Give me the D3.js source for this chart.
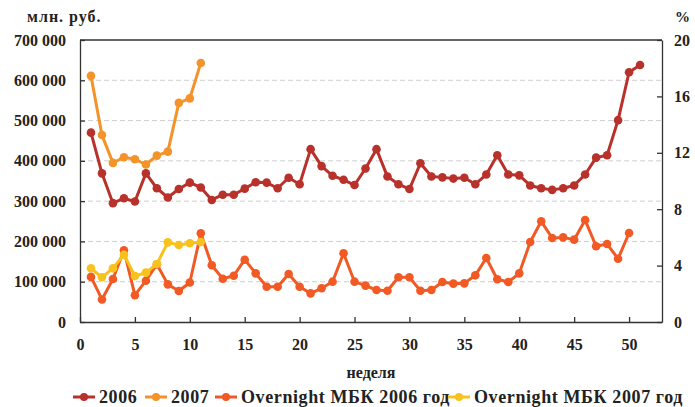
<!DOCTYPE html>
<html>
<head>
<meta charset="utf-8">
<script src="https://cdn.jsdelivr.net/npm/d3@7"></script>
<style>
  body { margin: 0; background: #fff; }
  text { font-family: "Liberation Serif", serif; font-weight: bold; fill: #222; }
  .grid line { stroke: #cfcfcf; stroke-dasharray: 5,3; }
  .axis path, .axis line { stroke: #333; stroke-width: 1.3; }
</style>
</head>
<body>
<div id="chart"></div>
<script>
// svg container
var width = 695
var height = 407

var margin = { top: 40, right: 33, bottom: 85, left: 80 };
var chartWidth = width - margin.left - margin.right;
var chartHeight = height - margin.top - margin.bottom;

// weekly data
var weeks2006 = d3.range(1, 52);
var weeks2007 = d3.range(1, 12);
var weeksOn2006 = d3.range(1, 51);

// balances, thousand mln rub (left axis)
var vol2006 = [470, 369, 295, 307, 299, 369, 332, 309, 330, 346,
    334, 303, 316, 316, 331, 347, 346, 332, 358, 342,
    429, 387, 363, 353, 340, 381, 429, 361, 342, 330,
    394, 361, 359, 356, 358, 342, 366, 414, 366, 364,
    339, 332, 328, 332, 339, 366, 408, 414, 501, 620, 638];
var vol2007 = [611, 464, 395, 409, 404, 391, 413, 423, 544, 555, 643];

// overnight rates, % (right axis)
var on2006 = [3.2, 1.6, 3.05, 5.08, 1.9, 2.93, 4.09, 2.67, 2.2, 2.8,
    6.29, 4.02, 3.07, 3.28, 4.42, 3.45, 2.5, 2.5, 3.4, 2.5,
    2.03, 2.39, 2.86, 4.87, 2.86, 2.58, 2.27, 2.22, 3.17, 3.17,
    2.22, 2.27, 2.84, 2.72, 2.74, 3.31, 4.54, 3.03, 2.84, 3.45,
    5.67, 7.14, 5.96, 6.0, 5.84, 7.23, 5.37, 5.53, 4.49, 6.31];
var on2007 = [3.81, 3.17, 3.81, 4.77, 3.26, 3.5, 4.11, 5.65, 5.46, 5.58, 5.67];

var seriesNames = ['2006', '2007', 'Overnight МБК 2006 год', 'Overnight МБК 2007 год'];
var seriesColors = ['#b8312b', '#f3932a', '#f15a24', '#f8c21c'];

var leftTicks = [0, 100, 200, 300, 400, 500, 600, 700];
var rightTicks = [0, 4, 8, 12, 16, 20];
var xTicks = d3.range(0, 55, 5);

var svg = d3.select('#chart').append('svg')
    .attr('width', width)
    .attr('height', height);

var chartGroup = svg.append('g')
    .attr('transform', `translate(${margin.left}, ${margin.top})`);

var xScale = d3.scaleLinear().domain([0, 53]).range([0, chartWidth]);
var yLeft = d3.scaleLinear().domain([0, 700]).range([chartHeight, 0]);
var yRight = d3.scaleLinear().domain([0, 20]).range([chartHeight, 0]);

// dashed grid
chartGroup.append('g')
    .attr('class', 'grid')
    .selectAll('line')
    .data(leftTicks.filter(d => d > 0 && d < 700))
    .enter()
    .append('line')
    .attr('x1', 0)
    .attr('x2', chartWidth)
    .attr('y1', d => yLeft(d))
    .attr('y2', d => yLeft(d));

// frame top
chartGroup.append('line')
    .attr('x1', 0).attr('x2', chartWidth)
    .attr('y1', 0).attr('y2', 0)
    .attr('stroke', '#333').attr('stroke-width', 1.3);

var fmtThousands = d => d === 0 ? '0' : d + ' 000';

var leftAxis = d3.axisLeft(yLeft).tickValues(leftTicks).tickFormat(fmtThousands)
    .tickSizeInner(-5).tickSizeOuter(0).tickPadding(14);
var rightAxis = d3.axisRight(yRight).tickValues(rightTicks)
    .tickSizeInner(-5).tickSizeOuter(0).tickPadding(12);
var bottomAxis = d3.axisBottom(xScale).tickValues(xTicks)
    .tickSizeInner(-5).tickSizeOuter(0).tickPadding(17);

chartGroup.append('g').attr('class', 'axis').call(leftAxis);
chartGroup.append('g').attr('class', 'axis')
    .attr('transform', `translate(${chartWidth}, 0)`).call(rightAxis);
chartGroup.append('g').attr('class', 'axis')
    .attr('transform', `translate(0, ${chartHeight})`).call(bottomAxis);

svg.selectAll('.axis text')
    .style('font-size', '16px')
    .attr('fill', '#222');

// unit labels
svg.append('text')
    .attr('x', 27).attr('y', 22)
    .style('font-size', '16px')
    .style('letter-spacing', '1px')
    .text('млн. руб.');
svg.append('text')
    .attr('x', 690).attr('y', 22)
    .attr('text-anchor', 'end')
    .style('font-size', '15px')
    .text('%');
svg.append('text')
    .attr('x', margin.left + chartWidth / 2).attr('y', 378)
    .attr('text-anchor', 'middle')
    .style('font-size', '16px')
    .text('неделя');

// series
var series = [
    { xs: weeks2006, ys: vol2006, scale: yLeft },
    { xs: weeks2007, ys: vol2007, scale: yLeft },
    { xs: weeksOn2006, ys: on2006, scale: yRight },
    { xs: weeks2007, ys: on2007, scale: yRight }
];

series.forEach(function(s, i) {
    var pts = s.xs.map((w, j) => [w, s.ys[j]]);
    var line = d3.line()
        .x(d => xScale(d[0]))
        .y(d => s.scale(d[1]));

    var g = chartGroup.append('g');
    g.append('path')
        .datum(pts)
        .attr('d', line)
        .attr('fill', 'none')
        .attr('stroke', seriesColors[i])
        .attr('stroke-width', 3)
        .attr('stroke-linejoin', 'round');
    g.selectAll('circle')
        .data(pts)
        .enter()
        .append('circle')
        .attr('cx', d => xScale(d[0]))
        .attr('cy', d => s.scale(d[1]))
        .attr('r', 4.3)
        .attr('fill', seriesColors[i]);
});

// legend, item slots as in the original layout
var legendX = [0, 72, 142, 375];
var legend = svg.append('g').attr('transform', 'translate(73, 397)');
seriesNames.forEach(function(name, i) {
    var item = legend.append('g').attr('transform', `translate(${legendX[i]}, 0)`);
    item.append('line')
        .attr('x1', 0).attr('x2', 22)
        .attr('stroke', seriesColors[i])
        .attr('stroke-width', 3);
    item.append('circle')
        .attr('cx', 11).attr('r', 4)
        .attr('fill', seriesColors[i]);
    item.append('text')
        .attr('x', 26)
        .attr('dy', '0.35em')
        .style('font-size', '18px')
        .style('letter-spacing', '0.6px')
        .text(name);
});
</script>
</body>
</html>
